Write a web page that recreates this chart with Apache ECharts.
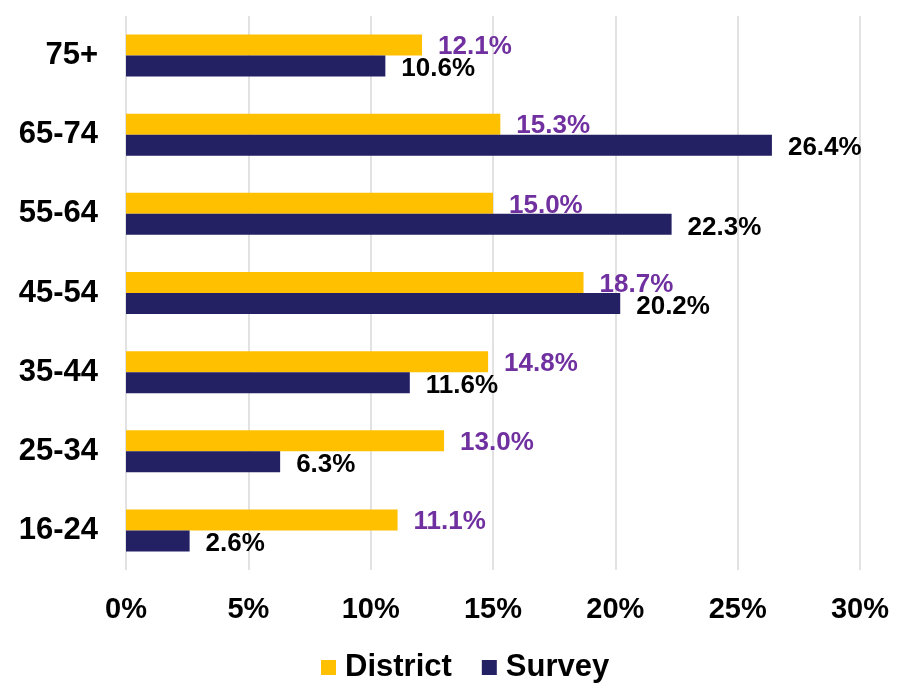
<!DOCTYPE html>
<html>
<head>
<meta charset="utf-8">
<script src="https://cdn.jsdelivr.net/npm/echarts@6/dist/echarts.min.js"></script>
<style>
  html, body { margin: 0; padding: 0; background: #fff; }
  #chart { width: 906px; height: 683px; }
</style>
</head>
<body>
<div id="chart"></div>
<script>
// age bands, top to bottom
const ageGroups = ["75+", "65-74", "55-64", "45-54", "35-44", "25-34", "16-24"];
const districtValues = [12.1, 15.3, 15.0, 18.7, 14.8, 13.0, 11.1];
const surveyValues = [10.6, 26.4, 22.3, 20.2, 11.6, 6.3, 2.6];
const seriesNames = ["District", "Survey"];
const xTicks = { min: 0, max: 30, step: 5 };

const FONT = "Liberation Sans, Arial, sans-serif";

const chart = echarts.init(document.getElementById("chart"), null, { renderer: "canvas" });

function pctLabel(color, dy) {
  return {
    show: true,
    position: "right",
    distance: 16,
    offset: [0, dy],
    color: color,
    fontFamily: FONT,
    fontWeight: "bold",
    fontSize: 26,
    formatter: p => p.value.toFixed(1) + "%"
  };
}

const option = {
  backgroundColor: "#fff",
  animation: false,
  grid: {
    left: 126,
    right: 46,
    top: 16,
    bottom: 113,
    containLabel: false
  },
  legend: {
    data: seriesNames,
    left: 316,
    top: 647,
    icon: "rect",
    itemWidth: 15,
    itemHeight: 15,
    itemGap: 30,
    textStyle: {
      color: "#000",
      fontFamily: FONT,
      fontWeight: "bold",
      fontSize: 31,
      padding: [0, 0, 0, 4]
    }
  },
  xAxis: {
    type: "value",
    min: xTicks.min,
    max: xTicks.max,
    interval: xTicks.step,
    axisLine: { show: false },
    axisTick: { show: false },
    splitLine: { lineStyle: { color: "#d9d9d9", width: 1.5 } },
    axisLabel: {
      margin: 25,
      color: "#000",
      fontFamily: FONT,
      fontWeight: "bold",
      fontSize: 29,
      formatter: "{value}%"
    }
  },
  yAxis: {
    type: "category",
    data: ageGroups,
    inverse: true,
    axisLine: { show: false },
    axisTick: { show: false },
    splitLine: { show: false },
    axisLabel: {
      margin: 28,
      color: "#000",
      fontFamily: FONT,
      fontWeight: "bold",
      fontSize: 31
    }
  },
  series: [
    {
      name: seriesNames[0],
      type: "bar",
      data: districtValues,
      barWidth: 21,
      barGap: "0%",
      itemStyle: { color: "#FFC000" },
      label: pctLabel("#7030A0", 2)
    },
    {
      name: seriesNames[1],
      type: "bar",
      data: surveyValues,
      barWidth: 21,
      barGap: "0%",
      itemStyle: { color: "#232064" },
      label: pctLabel("#000", 3)
    }
  ]
};

chart.setOption(option);
</script>
</body>
</html>
